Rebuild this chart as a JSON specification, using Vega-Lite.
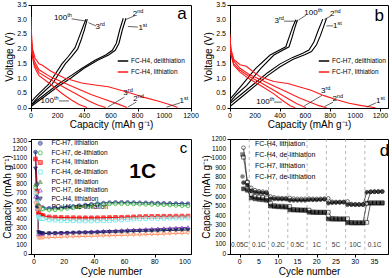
{
"$schema": "https://vega.github.io/schema/vega-lite/v6.json",
"padding": {"left": 2, "top": 0, "right": 0, "bottom": 0},
"columns": 2,
"spacing": {"row": 31, "column": 39},
"bounds": "flush",
"resolve": {"scale": {"color": "independent", "fill": "independent", "shape": "independent", "x": "independent", "y": "independent"}, "legend": {"color": "independent", "fill": "independent", "shape": "independent"}},
"config": {
  "font": "Liberation Sans",
  "view": {"stroke": "black", "strokeWidth": 1},
  "axis": {"grid": false, "labels": false, "domainColor": "black", "tickColor": "black", "titleColor": "black", "titleFontSize": 10, "titleFontWeight": "normal", "tickSize": 3},
  "axisX": {"titlePadding": 8},
  "axisY": {"titlePadding": 13},
  "text": {"font": "Liberation Sans", "color": "black"},
  "legend": {"labelColor": "black", "padding": 0, "title": null}
},
"datasets": {
  "curvesA": [
    {"g":"FC-H4, delithiation","c":"1st","x":0,"v":0.05},{"g":"FC-H4, delithiation","c":"1st","x":100,"v":0.38},{"g":"FC-H4, delithiation","c":"1st","x":200,"v":0.72},{"g":"FC-H4, delithiation","c":"1st","x":300,"v":1.02},{"g":"FC-H4, delithiation","c":"1st","x":395,"v":1.34},{"g":"FC-H4, delithiation","c":"1st","x":500,"v":1.62},{"g":"FC-H4, delithiation","c":"1st","x":582,"v":1.8},{"g":"FC-H4, delithiation","c":"1st","x":632,"v":1.96},{"g":"FC-H4, delithiation","c":"1st","x":660,"v":2.2},{"g":"FC-H4, delithiation","c":"1st","x":685,"v":2.65},{"g":"FC-H4, delithiation","c":"1st","x":712,"v":3.05},
    {"g":"FC-H4, delithiation","c":"2nd","x":0,"v":0.1},{"g":"FC-H4, delithiation","c":"2nd","x":100,"v":0.45},{"g":"FC-H4, delithiation","c":"2nd","x":200,"v":0.8},{"g":"FC-H4, delithiation","c":"2nd","x":300,"v":1.1},{"g":"FC-H4, delithiation","c":"2nd","x":380,"v":1.34},{"g":"FC-H4, delithiation","c":"2nd","x":480,"v":1.62},{"g":"FC-H4, delithiation","c":"2nd","x":560,"v":1.8},{"g":"FC-H4, delithiation","c":"2nd","x":610,"v":1.96},{"g":"FC-H4, delithiation","c":"2nd","x":640,"v":2.2},{"g":"FC-H4, delithiation","c":"2nd","x":665,"v":2.65},{"g":"FC-H4, delithiation","c":"2nd","x":692,"v":3.05},
    {"g":"FC-H4, delithiation","c":"3rd","x":0,"v":0.1},{"g":"FC-H4, delithiation","c":"3rd","x":60,"v":0.4},{"g":"FC-H4, delithiation","c":"3rd","x":157,"v":0.8},{"g":"FC-H4, delithiation","c":"3rd","x":257,"v":1.5},{"g":"FC-H4, delithiation","c":"3rd","x":300,"v":1.72},{"g":"FC-H4, delithiation","c":"3rd","x":350,"v":2.0},{"g":"FC-H4, delithiation","c":"3rd","x":375,"v":2.3},{"g":"FC-H4, delithiation","c":"3rd","x":400,"v":2.65},{"g":"FC-H4, delithiation","c":"3rd","x":422,"v":3.02},
    {"g":"FC-H4, delithiation","c":"100th","x":0,"v":0.2},{"g":"FC-H4, delithiation","c":"100th","x":40,"v":0.4},{"g":"FC-H4, delithiation","c":"100th","x":131,"v":0.8},{"g":"FC-H4, delithiation","c":"100th","x":232,"v":1.5},{"g":"FC-H4, delithiation","c":"100th","x":280,"v":1.75},{"g":"FC-H4, delithiation","c":"100th","x":330,"v":2.05},{"g":"FC-H4, delithiation","c":"100th","x":360,"v":2.4},{"g":"FC-H4, delithiation","c":"100th","x":385,"v":2.7},{"g":"FC-H4, delithiation","c":"100th","x":412,"v":3.02},
    {"g":"FC-H4, lithiation","c":"1st","x":0,"v":3.1},{"g":"FC-H4, lithiation","c":"1st","x":4,"v":2.5},{"g":"FC-H4, lithiation","c":"1st","x":12,"v":2.0},{"g":"FC-H4, lithiation","c":"1st","x":30,"v":1.7},{"g":"FC-H4, lithiation","c":"1st","x":60,"v":1.5},{"g":"FC-H4, lithiation","c":"1st","x":85,"v":1.45},{"g":"FC-H4, lithiation","c":"1st","x":150,"v":1.25},{"g":"FC-H4, lithiation","c":"1st","x":250,"v":1.02},{"g":"FC-H4, lithiation","c":"1st","x":380,"v":0.85},{"g":"FC-H4, lithiation","c":"1st","x":480,"v":0.78},{"g":"FC-H4, lithiation","c":"1st","x":580,"v":0.72},{"g":"FC-H4, lithiation","c":"1st","x":660,"v":0.62},{"g":"FC-H4, lithiation","c":"1st","x":757,"v":0.49},{"g":"FC-H4, lithiation","c":"1st","x":850,"v":0.36},{"g":"FC-H4, lithiation","c":"1st","x":957,"v":0.23},{"g":"FC-H4, lithiation","c":"1st","x":1050,"v":0.1},{"g":"FC-H4, lithiation","c":"1st","x":1100,"v":0.02},
    {"g":"FC-H4, lithiation","c":"2nd","x":0,"v":2.5},{"g":"FC-H4, lithiation","c":"2nd","x":8,"v":2.0},{"g":"FC-H4, lithiation","c":"2nd","x":25,"v":1.6},{"g":"FC-H4, lithiation","c":"2nd","x":60,"v":1.3},{"g":"FC-H4, lithiation","c":"2nd","x":150,"v":1.05},{"g":"FC-H4, lithiation","c":"2nd","x":250,"v":0.85},{"g":"FC-H4, lithiation","c":"2nd","x":350,"v":0.65},{"g":"FC-H4, lithiation","c":"2nd","x":450,"v":0.46},{"g":"FC-H4, lithiation","c":"2nd","x":550,"v":0.3},{"g":"FC-H4, lithiation","c":"2nd","x":650,"v":0.14},{"g":"FC-H4, lithiation","c":"2nd","x":720,"v":0.02},
    {"g":"FC-H4, lithiation","c":"3rd","x":0,"v":2.4},{"g":"FC-H4, lithiation","c":"3rd","x":8,"v":1.9},{"g":"FC-H4, lithiation","c":"3rd","x":25,"v":1.5},{"g":"FC-H4, lithiation","c":"3rd","x":60,"v":1.2},{"g":"FC-H4, lithiation","c":"3rd","x":150,"v":0.95},{"g":"FC-H4, lithiation","c":"3rd","x":250,"v":0.7},{"g":"FC-H4, lithiation","c":"3rd","x":350,"v":0.45},{"g":"FC-H4, lithiation","c":"3rd","x":430,"v":0.25},{"g":"FC-H4, lithiation","c":"3rd","x":500,"v":0.1},{"g":"FC-H4, lithiation","c":"3rd","x":560,"v":0.02},
    {"g":"FC-H4, lithiation","c":"100th","x":0,"v":2.3},{"g":"FC-H4, lithiation","c":"100th","x":8,"v":1.8},{"g":"FC-H4, lithiation","c":"100th","x":25,"v":1.4},{"g":"FC-H4, lithiation","c":"100th","x":60,"v":1.1},{"g":"FC-H4, lithiation","c":"100th","x":150,"v":0.8},{"g":"FC-H4, lithiation","c":"100th","x":230,"v":0.5},{"g":"FC-H4, lithiation","c":"100th","x":300,"v":0.28},{"g":"FC-H4, lithiation","c":"100th","x":360,"v":0.12},{"g":"FC-H4, lithiation","c":"100th","x":420,"v":0.02}
  ],
  "curvesB": [
    {"g":"FC-H7, delithiation","c":"1st","x":0,"v":0.05},{"g":"FC-H7, delithiation","c":"1st","x":100,"v":0.4},{"g":"FC-H7, delithiation","c":"1st","x":200,"v":0.75},{"g":"FC-H7, delithiation","c":"1st","x":300,"v":1.1},{"g":"FC-H7, delithiation","c":"1st","x":400,"v":1.4},{"g":"FC-H7, delithiation","c":"1st","x":500,"v":1.65},{"g":"FC-H7, delithiation","c":"1st","x":600,"v":1.82},{"g":"FC-H7, delithiation","c":"1st","x":650,"v":1.92},{"g":"FC-H7, delithiation","c":"1st","x":690,"v":2.15},{"g":"FC-H7, delithiation","c":"1st","x":720,"v":2.45},{"g":"FC-H7, delithiation","c":"1st","x":745,"v":2.75},{"g":"FC-H7, delithiation","c":"1st","x":770,"v":3.05},
    {"g":"FC-H7, delithiation","c":"2nd","x":0,"v":0.15},{"g":"FC-H7, delithiation","c":"2nd","x":100,"v":0.5},{"g":"FC-H7, delithiation","c":"2nd","x":200,"v":0.85},{"g":"FC-H7, delithiation","c":"2nd","x":300,"v":1.2},{"g":"FC-H7, delithiation","c":"2nd","x":400,"v":1.5},{"g":"FC-H7, delithiation","c":"2nd","x":500,"v":1.72},{"g":"FC-H7, delithiation","c":"2nd","x":580,"v":1.86},{"g":"FC-H7, delithiation","c":"2nd","x":630,"v":1.97},{"g":"FC-H7, delithiation","c":"2nd","x":670,"v":2.25},{"g":"FC-H7, delithiation","c":"2nd","x":700,"v":2.6},{"g":"FC-H7, delithiation","c":"2nd","x":740,"v":3.02},
    {"g":"FC-H7, delithiation","c":"3rd","x":0,"v":0.2},{"g":"FC-H7, delithiation","c":"3rd","x":50,"v":0.45},{"g":"FC-H7, delithiation","c":"3rd","x":133,"v":0.77},{"g":"FC-H7, delithiation","c":"3rd","x":244,"v":1.34},{"g":"FC-H7, delithiation","c":"3rd","x":350,"v":1.8},{"g":"FC-H7, delithiation","c":"3rd","x":471,"v":2.08},{"g":"FC-H7, delithiation","c":"3rd","x":495,"v":2.4},{"g":"FC-H7, delithiation","c":"3rd","x":515,"v":2.7},{"g":"FC-H7, delithiation","c":"3rd","x":538,"v":3.0},
    {"g":"FC-H7, delithiation","c":"100th","x":0,"v":0.3},{"g":"FC-H7, delithiation","c":"100th","x":40,"v":0.5},{"g":"FC-H7, delithiation","c":"100th","x":93,"v":0.77},{"g":"FC-H7, delithiation","c":"100th","x":203,"v":1.34},{"g":"FC-H7, delithiation","c":"100th","x":320,"v":1.8},{"g":"FC-H7, delithiation","c":"100th","x":445,"v":2.08},{"g":"FC-H7, delithiation","c":"100th","x":475,"v":2.45},{"g":"FC-H7, delithiation","c":"100th","x":500,"v":2.75},{"g":"FC-H7, delithiation","c":"100th","x":525,"v":3.0},
    {"g":"FC-H7, lithiation","c":"1st","x":0,"v":2.4},{"g":"FC-H7, lithiation","c":"1st","x":8,"v":2.0},{"g":"FC-H7, lithiation","c":"1st","x":30,"v":1.65},{"g":"FC-H7, lithiation","c":"1st","x":80,"v":1.47},{"g":"FC-H7, lithiation","c":"1st","x":130,"v":1.42},{"g":"FC-H7, lithiation","c":"1st","x":180,"v":1.25},{"g":"FC-H7, lithiation","c":"1st","x":244,"v":1.05},{"g":"FC-H7, lithiation","c":"1st","x":350,"v":0.9},{"g":"FC-H7, lithiation","c":"1st","x":461,"v":0.83},{"g":"FC-H7, lithiation","c":"1st","x":550,"v":0.72},{"g":"FC-H7, lithiation","c":"1st","x":646,"v":0.6},{"g":"FC-H7, lithiation","c":"1st","x":750,"v":0.42},{"g":"FC-H7, lithiation","c":"1st","x":850,"v":0.28},{"g":"FC-H7, lithiation","c":"1st","x":950,"v":0.16},{"g":"FC-H7, lithiation","c":"1st","x":1050,"v":0.08},{"g":"FC-H7, lithiation","c":"1st","x":1160,"v":0.01},
    {"g":"FC-H7, lithiation","c":"2nd","x":0,"v":2.2},{"g":"FC-H7, lithiation","c":"2nd","x":8,"v":1.9},{"g":"FC-H7, lithiation","c":"2nd","x":30,"v":1.6},{"g":"FC-H7, lithiation","c":"2nd","x":80,"v":1.35},{"g":"FC-H7, lithiation","c":"2nd","x":150,"v":1.15},{"g":"FC-H7, lithiation","c":"2nd","x":250,"v":0.95},{"g":"FC-H7, lithiation","c":"2nd","x":350,"v":0.75},{"g":"FC-H7, lithiation","c":"2nd","x":450,"v":0.55},{"g":"FC-H7, lithiation","c":"2nd","x":550,"v":0.35},{"g":"FC-H7, lithiation","c":"2nd","x":650,"v":0.18},{"g":"FC-H7, lithiation","c":"2nd","x":710,"v":0.08},{"g":"FC-H7, lithiation","c":"2nd","x":770,"v":0.01},
    {"g":"FC-H7, lithiation","c":"3rd","x":0,"v":2.3},{"g":"FC-H7, lithiation","c":"3rd","x":8,"v":1.85},{"g":"FC-H7, lithiation","c":"3rd","x":30,"v":1.5},{"g":"FC-H7, lithiation","c":"3rd","x":80,"v":1.28},{"g":"FC-H7, lithiation","c":"3rd","x":150,"v":1.08},{"g":"FC-H7, lithiation","c":"3rd","x":250,"v":0.85},{"g":"FC-H7, lithiation","c":"3rd","x":350,"v":0.6},{"g":"FC-H7, lithiation","c":"3rd","x":450,"v":0.35},{"g":"FC-H7, lithiation","c":"3rd","x":530,"v":0.15},{"g":"FC-H7, lithiation","c":"3rd","x":605,"v":0.01},
    {"g":"FC-H7, lithiation","c":"100th","x":0,"v":2.5},{"g":"FC-H7, lithiation","c":"100th","x":8,"v":1.8},{"g":"FC-H7, lithiation","c":"100th","x":30,"v":1.45},{"g":"FC-H7, lithiation","c":"100th","x":80,"v":1.22},{"g":"FC-H7, lithiation","c":"100th","x":150,"v":1.0},{"g":"FC-H7, lithiation","c":"100th","x":250,"v":0.75},{"g":"FC-H7, lithiation","c":"100th","x":350,"v":0.48},{"g":"FC-H7, lithiation","c":"100th","x":430,"v":0.22},{"g":"FC-H7, lithiation","c":"100th","x":480,"v":0.08},{"g":"FC-H7, lithiation","c":"100th","x":520,"v":0.01}
  ],
  "arrowsA": [
    {"x":305,"v":3.03,"x2":416,"v2":2.95},{"x":487,"v":2.79,"x2":431,"v2":2.9},{"x":776,"v":3.13,"x2":714,"v2":3.01},{"x":801,"v":2.75,"x2":726,"v2":2.77},
    {"x":209,"v":0.24,"x2":285,"v2":0.24},{"x":701,"v":0.37,"x2":575,"v2":0.03},{"x":789,"v":0.2,"x2":726,"v2":0.03},{"x":1117,"v":0.17,"x2":1016,"v2":0.03}
  ],
  "labelsA": [
    {"x":272,"v":3.06,"t":"100","s":"th"},{"x":517,"v":2.75,"t":"3","s":"rd"},{"x":797,"v":3.18,"t":"2","s":"nd"},{"x":839,"v":2.73,"t":"1","s":"st"},
    {"x":172,"v":0.24,"t":"100","s":"th"},{"x":726,"v":0.52,"t":"3","s":"rd"},{"x":801,"v":0.3,"t":"2","s":"nd"},{"x":1147,"v":0.24,"t":"1","s":"st"}
  ],
  "arrowsB": [
    {"x":431,"v":2.95,"x2":539,"v2":2.95},{"x":605,"v":3.15,"x2":547,"v2":2.99},{"x":806,"v":3.13,"x2":753,"v2":3.01},{"x":823,"v":2.79,"x2":769,"v2":2.79},
    {"x":352,"v":0.2,"x2":414,"v2":0.2},{"x":734,"v":0.43,"x2":592,"v2":0.07},{"x":823,"v":0.2,"x2":755,"v2":0.05},{"x":1163,"v":0.17,"x2":1088,"v2":0.03}
  ],
  "labelsB": [
    {"x":391,"v":2.95,"t":"3","s":"rd"},{"x":699,"v":3.23,"t":"100","s":"th"},{"x":833,"v":3.18,"t":"2","s":"nd"},{"x":857,"v":2.79,"t":"1","s":"st"},
    {"x":316,"v":0.2,"t":"100","s":"th"},{"x":761,"v":0.57,"t":"3","s":"rd"},{"x":852,"v":0.3,"t":"2","s":"nd"},{"x":1200,"v":0.25,"t":"1","s":"st"}
  ],
  "ticksV": [{"v":0},{"v":0.5},{"v":1},{"v":1.5},{"v":2},{"v":2.5},{"v":3},{"v":3.5}],
  "ticksCap": [{"x":0},{"x":200},{"x":400},{"x":600},{"x":800},{"x":1000},{"x":1200}],
  "ticksC": [{"y":0},{"y":100},{"y":200},{"y":300},{"y":400},{"y":500},{"y":600},{"y":700},{"y":800},{"y":900},{"y":1000},{"y":1100},{"y":1200},{"y":1300}],
  "ticksCx": [{"x":0},{"x":20},{"x":40},{"x":60},{"x":80},{"x":100}],
  "ticksD": [{"y":0},{"y":100},{"y":200},{"y":300},{"y":400},{"y":500},{"y":600},{"y":700},{"y":800},{"y":900},{"y":1000},{"y":1100},{"y":1200}],
  "ticksDx": [{"x":0},{"x":5},{"x":10},{"x":15},{"x":20},{"x":25},{"x":30},{"x":35}],
  "cyc": [
    {"s":"FC-H7, lithiation","x":1,"y":1170},{"s":"FC-H7, lithiation","x":2,"y":800},{"s":"FC-H7, lithiation","x":3,"y":560},{"s":"FC-H7, lithiation","x":4,"y":535},{"s":"FC-H7, lithiation","x":5,"y":532},{"s":"FC-H7, lithiation","x":6,"y":530},{"s":"FC-H7, lithiation","x":10,"y":525},{"s":"FC-H7, lithiation","x":14,"y":528},{"s":"FC-H7, lithiation","x":18,"y":532},{"s":"FC-H7, lithiation","x":22,"y":538},{"s":"FC-H7, lithiation","x":26,"y":547},{"s":"FC-H7, lithiation","x":30,"y":555},{"s":"FC-H7, lithiation","x":34,"y":563},{"s":"FC-H7, lithiation","x":38,"y":571},{"s":"FC-H7, lithiation","x":42,"y":579},{"s":"FC-H7, lithiation","x":46,"y":585},{"s":"FC-H7, lithiation","x":50,"y":590},{"s":"FC-H7, lithiation","x":54,"y":592},{"s":"FC-H7, lithiation","x":58,"y":593},{"s":"FC-H7, lithiation","x":62,"y":592},{"s":"FC-H7, lithiation","x":66,"y":590},{"s":"FC-H7, lithiation","x":70,"y":588},{"s":"FC-H7, lithiation","x":74,"y":587},{"s":"FC-H7, lithiation","x":78,"y":586},{"s":"FC-H7, lithiation","x":82,"y":584},{"s":"FC-H7, lithiation","x":86,"y":582},{"s":"FC-H7, lithiation","x":90,"y":580},{"s":"FC-H7, lithiation","x":94,"y":579},{"s":"FC-H7, lithiation","x":98,"y":578},{"s":"FC-H7, lithiation","x":102,"y":577},
    {"s":"FC-H7, de-lithiation","x":1,"y":760},{"s":"FC-H7, de-lithiation","x":2,"y":700},{"s":"FC-H7, de-lithiation","x":3,"y":545},{"s":"FC-H7, de-lithiation","x":4,"y":522},{"s":"FC-H7, de-lithiation","x":5,"y":516},{"s":"FC-H7, de-lithiation","x":6,"y":515},{"s":"FC-H7, de-lithiation","x":10,"y":505},{"s":"FC-H7, de-lithiation","x":14,"y":508},{"s":"FC-H7, de-lithiation","x":18,"y":515},{"s":"FC-H7, de-lithiation","x":22,"y":523},{"s":"FC-H7, de-lithiation","x":26,"y":532},{"s":"FC-H7, de-lithiation","x":30,"y":540},{"s":"FC-H7, de-lithiation","x":34,"y":548},{"s":"FC-H7, de-lithiation","x":38,"y":556},{"s":"FC-H7, de-lithiation","x":42,"y":563},{"s":"FC-H7, de-lithiation","x":46,"y":569},{"s":"FC-H7, de-lithiation","x":50,"y":575},{"s":"FC-H7, de-lithiation","x":54,"y":577},{"s":"FC-H7, de-lithiation","x":58,"y":578},{"s":"FC-H7, de-lithiation","x":62,"y":577},{"s":"FC-H7, de-lithiation","x":66,"y":574},{"s":"FC-H7, de-lithiation","x":70,"y":572},{"s":"FC-H7, de-lithiation","x":74,"y":570},{"s":"FC-H7, de-lithiation","x":78,"y":569},{"s":"FC-H7, de-lithiation","x":82,"y":567},{"s":"FC-H7, de-lithiation","x":86,"y":565},{"s":"FC-H7, de-lithiation","x":90,"y":562},{"s":"FC-H7, de-lithiation","x":94,"y":558},{"s":"FC-H7, de-lithiation","x":98,"y":555},{"s":"FC-H7, de-lithiation","x":102,"y":552},
    {"s":"FC-H4, lithiation","x":1,"y":1090},{"s":"FC-H4, lithiation","x":2,"y":720},{"s":"FC-H4, lithiation","x":3,"y":470},{"s":"FC-H4, lithiation","x":4,"y":448},{"s":"FC-H4, lithiation","x":5,"y":442},{"s":"FC-H4, lithiation","x":6,"y":440},{"s":"FC-H4, lithiation","x":10,"y":425},{"s":"FC-H4, lithiation","x":14,"y":422},{"s":"FC-H4, lithiation","x":18,"y":419},{"s":"FC-H4, lithiation","x":22,"y":417},{"s":"FC-H4, lithiation","x":26,"y":416},{"s":"FC-H4, lithiation","x":30,"y":415},{"s":"FC-H4, lithiation","x":34,"y":415},{"s":"FC-H4, lithiation","x":38,"y":415},{"s":"FC-H4, lithiation","x":42,"y":415},{"s":"FC-H4, lithiation","x":46,"y":416},{"s":"FC-H4, lithiation","x":50,"y":418},{"s":"FC-H4, lithiation","x":54,"y":420},{"s":"FC-H4, lithiation","x":58,"y":421},{"s":"FC-H4, lithiation","x":62,"y":423},{"s":"FC-H4, lithiation","x":66,"y":426},{"s":"FC-H4, lithiation","x":70,"y":428},{"s":"FC-H4, lithiation","x":74,"y":430},{"s":"FC-H4, lithiation","x":78,"y":431},{"s":"FC-H4, lithiation","x":82,"y":432},{"s":"FC-H4, lithiation","x":86,"y":433},{"s":"FC-H4, lithiation","x":90,"y":433},{"s":"FC-H4, lithiation","x":94,"y":434},{"s":"FC-H4, lithiation","x":98,"y":435},{"s":"FC-H4, lithiation","x":102,"y":435},
    {"s":"FC-H4, de-lithiation","x":1,"y":700},{"s":"FC-H4, de-lithiation","x":2,"y":600},{"s":"FC-H4, de-lithiation","x":3,"y":430},{"s":"FC-H4, de-lithiation","x":4,"y":412},{"s":"FC-H4, de-lithiation","x":5,"y":407},{"s":"FC-H4, de-lithiation","x":6,"y":405},{"s":"FC-H4, de-lithiation","x":10,"y":392},{"s":"FC-H4, de-lithiation","x":14,"y":389},{"s":"FC-H4, de-lithiation","x":18,"y":386},{"s":"FC-H4, de-lithiation","x":22,"y":384},{"s":"FC-H4, de-lithiation","x":26,"y":382},{"s":"FC-H4, de-lithiation","x":30,"y":380},{"s":"FC-H4, de-lithiation","x":34,"y":380},{"s":"FC-H4, de-lithiation","x":38,"y":380},{"s":"FC-H4, de-lithiation","x":42,"y":381},{"s":"FC-H4, de-lithiation","x":46,"y":383},{"s":"FC-H4, de-lithiation","x":50,"y":385},{"s":"FC-H4, de-lithiation","x":54,"y":389},{"s":"FC-H4, de-lithiation","x":58,"y":393},{"s":"FC-H4, de-lithiation","x":62,"y":397},{"s":"FC-H4, de-lithiation","x":66,"y":401},{"s":"FC-H4, de-lithiation","x":70,"y":405},{"s":"FC-H4, de-lithiation","x":74,"y":407},{"s":"FC-H4, de-lithiation","x":78,"y":409},{"s":"FC-H4, de-lithiation","x":82,"y":410},{"s":"FC-H4, de-lithiation","x":86,"y":411},{"s":"FC-H4, de-lithiation","x":90,"y":412},{"s":"FC-H4, de-lithiation","x":94,"y":413},{"s":"FC-H4, de-lithiation","x":98,"y":414},{"s":"FC-H4, de-lithiation","x":102,"y":415},
    {"s":"PC-H7, lithiation","x":1,"y":800},{"s":"PC-H7, lithiation","x":2,"y":560},{"s":"PC-H7, lithiation","x":3,"y":255},{"s":"PC-H7, lithiation","x":4,"y":245},{"s":"PC-H7, lithiation","x":5,"y":242},{"s":"PC-H7, lithiation","x":6,"y":240},{"s":"PC-H7, lithiation","x":10,"y":241},{"s":"PC-H7, lithiation","x":14,"y":243},{"s":"PC-H7, lithiation","x":18,"y":244},{"s":"PC-H7, lithiation","x":22,"y":246},{"s":"PC-H7, lithiation","x":26,"y":248},{"s":"PC-H7, lithiation","x":30,"y":250},{"s":"PC-H7, lithiation","x":34,"y":252},{"s":"PC-H7, lithiation","x":38,"y":254},{"s":"PC-H7, lithiation","x":42,"y":256},{"s":"PC-H7, lithiation","x":46,"y":259},{"s":"PC-H7, lithiation","x":50,"y":262},{"s":"PC-H7, lithiation","x":54,"y":265},{"s":"PC-H7, lithiation","x":58,"y":268},{"s":"PC-H7, lithiation","x":62,"y":271},{"s":"PC-H7, lithiation","x":66,"y":273},{"s":"PC-H7, lithiation","x":70,"y":275},{"s":"PC-H7, lithiation","x":74,"y":277},{"s":"PC-H7, lithiation","x":78,"y":279},{"s":"PC-H7, lithiation","x":82,"y":281},{"s":"PC-H7, lithiation","x":86,"y":283},{"s":"PC-H7, lithiation","x":90,"y":285},{"s":"PC-H7, lithiation","x":94,"y":287},{"s":"PC-H7, lithiation","x":98,"y":289},{"s":"PC-H7, lithiation","x":102,"y":291},
    {"s":"PC-H7, de-lithiation","x":1,"y":660},{"s":"PC-H7, de-lithiation","x":2,"y":520},{"s":"PC-H7, de-lithiation","x":3,"y":232},{"s":"PC-H7, de-lithiation","x":4,"y":234},{"s":"PC-H7, de-lithiation","x":5,"y":235},{"s":"PC-H7, de-lithiation","x":6,"y":235},{"s":"PC-H7, de-lithiation","x":10,"y":238},{"s":"PC-H7, de-lithiation","x":14,"y":241},{"s":"PC-H7, de-lithiation","x":18,"y":244},{"s":"PC-H7, de-lithiation","x":22,"y":246},{"s":"PC-H7, de-lithiation","x":26,"y":249},{"s":"PC-H7, de-lithiation","x":30,"y":252},{"s":"PC-H7, de-lithiation","x":34,"y":255},{"s":"PC-H7, de-lithiation","x":38,"y":258},{"s":"PC-H7, de-lithiation","x":42,"y":261},{"s":"PC-H7, de-lithiation","x":46,"y":264},{"s":"PC-H7, de-lithiation","x":50,"y":267},{"s":"PC-H7, de-lithiation","x":54,"y":270},{"s":"PC-H7, de-lithiation","x":58,"y":273},{"s":"PC-H7, de-lithiation","x":62,"y":276},{"s":"PC-H7, de-lithiation","x":66,"y":279},{"s":"PC-H7, de-lithiation","x":70,"y":282},{"s":"PC-H7, de-lithiation","x":74,"y":285},{"s":"PC-H7, de-lithiation","x":78,"y":288},{"s":"PC-H7, de-lithiation","x":82,"y":291},{"s":"PC-H7, de-lithiation","x":86,"y":294},{"s":"PC-H7, de-lithiation","x":90,"y":297},{"s":"PC-H7, de-lithiation","x":94,"y":300},{"s":"PC-H7, de-lithiation","x":98,"y":303},{"s":"PC-H7, de-lithiation","x":102,"y":306},
    {"s":"PC-H4, lithiation","x":1,"y":980},{"s":"PC-H4, lithiation","x":2,"y":530},{"s":"PC-H4, lithiation","x":3,"y":250},{"s":"PC-H4, lithiation","x":4,"y":240},{"s":"PC-H4, lithiation","x":5,"y":236},{"s":"PC-H4, lithiation","x":6,"y":235},{"s":"PC-H4, lithiation","x":10,"y":236},{"s":"PC-H4, lithiation","x":14,"y":237},{"s":"PC-H4, lithiation","x":18,"y":239},{"s":"PC-H4, lithiation","x":22,"y":240},{"s":"PC-H4, lithiation","x":26,"y":241},{"s":"PC-H4, lithiation","x":30,"y":242},{"s":"PC-H4, lithiation","x":34,"y":243},{"s":"PC-H4, lithiation","x":38,"y":244},{"s":"PC-H4, lithiation","x":42,"y":246},{"s":"PC-H4, lithiation","x":46,"y":248},{"s":"PC-H4, lithiation","x":50,"y":250},{"s":"PC-H4, lithiation","x":54,"y":252},{"s":"PC-H4, lithiation","x":58,"y":254},{"s":"PC-H4, lithiation","x":62,"y":256},{"s":"PC-H4, lithiation","x":66,"y":258},{"s":"PC-H4, lithiation","x":70,"y":260},{"s":"PC-H4, lithiation","x":74,"y":262},{"s":"PC-H4, lithiation","x":78,"y":264},{"s":"PC-H4, lithiation","x":82,"y":266},{"s":"PC-H4, lithiation","x":86,"y":268},{"s":"PC-H4, lithiation","x":90,"y":270},{"s":"PC-H4, lithiation","x":94,"y":272},{"s":"PC-H4, lithiation","x":98,"y":274},{"s":"PC-H4, lithiation","x":102,"y":276},
    {"s":"PC-H4, de-lithiation","x":1,"y":580},{"s":"PC-H4, de-lithiation","x":2,"y":500},{"s":"PC-H4, de-lithiation","x":3,"y":180},{"s":"PC-H4, de-lithiation","x":4,"y":183},{"s":"PC-H4, de-lithiation","x":5,"y":185},{"s":"PC-H4, de-lithiation","x":6,"y":185},{"s":"PC-H4, de-lithiation","x":10,"y":188},{"s":"PC-H4, de-lithiation","x":14,"y":191},{"s":"PC-H4, de-lithiation","x":18,"y":194},{"s":"PC-H4, de-lithiation","x":22,"y":196},{"s":"PC-H4, de-lithiation","x":26,"y":198},{"s":"PC-H4, de-lithiation","x":30,"y":200},{"s":"PC-H4, de-lithiation","x":34,"y":202},{"s":"PC-H4, de-lithiation","x":38,"y":204},{"s":"PC-H4, de-lithiation","x":42,"y":206},{"s":"PC-H4, de-lithiation","x":46,"y":208},{"s":"PC-H4, de-lithiation","x":50,"y":210},{"s":"PC-H4, de-lithiation","x":54,"y":212},{"s":"PC-H4, de-lithiation","x":58,"y":214},{"s":"PC-H4, de-lithiation","x":62,"y":216},{"s":"PC-H4, de-lithiation","x":66,"y":218},{"s":"PC-H4, de-lithiation","x":70,"y":220},{"s":"PC-H4, de-lithiation","x":74,"y":222},{"s":"PC-H4, de-lithiation","x":78,"y":224},{"s":"PC-H4, de-lithiation","x":82,"y":226},{"s":"PC-H4, de-lithiation","x":86,"y":229},{"s":"PC-H4, de-lithiation","x":90,"y":232},{"s":"PC-H4, de-lithiation","x":94,"y":235},{"s":"PC-H4, de-lithiation","x":98,"y":238},{"s":"PC-H4, de-lithiation","x":102,"y":241}
  ],
  "rate": [
    {"s":"FC-H4, lithiation","x":1,"y":1010},{"s":"FC-H4, lithiation","x":2,"y":750},{"s":"FC-H4, lithiation","x":3,"y":620},{"s":"FC-H4, lithiation","x":4,"y":600},{"s":"FC-H4, lithiation","x":5,"y":595},{"s":"FC-H4, lithiation","x":6,"y":590},{"s":"FC-H4, lithiation","x":7,"y":585},{"s":"FC-H4, lithiation","x":8,"y":530},{"s":"FC-H4, lithiation","x":9,"y":505},{"s":"FC-H4, lithiation","x":10,"y":500},{"s":"FC-H4, lithiation","x":11,"y":500},{"s":"FC-H4, lithiation","x":12,"y":498},{"s":"FC-H4, lithiation","x":13,"y":495},{"s":"FC-H4, lithiation","x":14,"y":465},{"s":"FC-H4, lithiation","x":15,"y":462},{"s":"FC-H4, lithiation","x":16,"y":460},{"s":"FC-H4, lithiation","x":17,"y":460},{"s":"FC-H4, lithiation","x":18,"y":458},{"s":"FC-H4, lithiation","x":19,"y":440},{"s":"FC-H4, lithiation","x":20,"y":438},{"s":"FC-H4, lithiation","x":21,"y":437},{"s":"FC-H4, lithiation","x":22,"y":437},{"s":"FC-H4, lithiation","x":23,"y":436},{"s":"FC-H4, lithiation","x":24,"y":372},{"s":"FC-H4, lithiation","x":25,"y":370},{"s":"FC-H4, lithiation","x":26,"y":368},{"s":"FC-H4, lithiation","x":27,"y":368},{"s":"FC-H4, lithiation","x":28,"y":368},{"s":"FC-H4, lithiation","x":29,"y":330},{"s":"FC-H4, lithiation","x":30,"y":328},{"s":"FC-H4, lithiation","x":31,"y":328},{"s":"FC-H4, lithiation","x":32,"y":327},{"s":"FC-H4, lithiation","x":33,"y":330},{"s":"FC-H4, lithiation","x":34,"y":535},{"s":"FC-H4, lithiation","x":35,"y":535},{"s":"FC-H4, lithiation","x":36,"y":535},{"s":"FC-H4, lithiation","x":37,"y":535},
    {"s":"FC-H4, de-lithiation","x":1,"y":680},{"s":"FC-H4, de-lithiation","x":2,"y":665},{"s":"FC-H4, de-lithiation","x":3,"y":585},{"s":"FC-H4, de-lithiation","x":4,"y":575},{"s":"FC-H4, de-lithiation","x":5,"y":570},{"s":"FC-H4, de-lithiation","x":6,"y":565},{"s":"FC-H4, de-lithiation","x":7,"y":560},{"s":"FC-H4, de-lithiation","x":8,"y":500},{"s":"FC-H4, de-lithiation","x":9,"y":495},{"s":"FC-H4, de-lithiation","x":10,"y":492},{"s":"FC-H4, de-lithiation","x":11,"y":490},{"s":"FC-H4, de-lithiation","x":12,"y":488},{"s":"FC-H4, de-lithiation","x":13,"y":460},{"s":"FC-H4, de-lithiation","x":14,"y":458},{"s":"FC-H4, de-lithiation","x":15,"y":457},{"s":"FC-H4, de-lithiation","x":16,"y":456},{"s":"FC-H4, de-lithiation","x":17,"y":455},{"s":"FC-H4, de-lithiation","x":18,"y":435},{"s":"FC-H4, de-lithiation","x":19,"y":433},{"s":"FC-H4, de-lithiation","x":20,"y":432},{"s":"FC-H4, de-lithiation","x":21,"y":432},{"s":"FC-H4, de-lithiation","x":22,"y":432},{"s":"FC-H4, de-lithiation","x":23,"y":365},{"s":"FC-H4, de-lithiation","x":24,"y":363},{"s":"FC-H4, de-lithiation","x":25,"y":362},{"s":"FC-H4, de-lithiation","x":26,"y":362},{"s":"FC-H4, de-lithiation","x":27,"y":362},{"s":"FC-H4, de-lithiation","x":28,"y":325},{"s":"FC-H4, de-lithiation","x":29,"y":323},{"s":"FC-H4, de-lithiation","x":30,"y":322},{"s":"FC-H4, de-lithiation","x":31,"y":322},{"s":"FC-H4, de-lithiation","x":32,"y":322},{"s":"FC-H4, de-lithiation","x":33,"y":530},{"s":"FC-H4, de-lithiation","x":34,"y":530},{"s":"FC-H4, de-lithiation","x":35,"y":530},{"s":"FC-H4, de-lithiation","x":36,"y":530},{"s":"FC-H4, de-lithiation","x":37,"y":530},
    {"s":"FC-H7, lithiation","x":1,"y":1110},{"s":"FC-H7, lithiation","x":2,"y":750},{"s":"FC-H7, lithiation","x":3,"y":690},{"s":"FC-H7, lithiation","x":4,"y":665},{"s":"FC-H7, lithiation","x":5,"y":655},{"s":"FC-H7, lithiation","x":6,"y":650},{"s":"FC-H7, lithiation","x":7,"y":645},{"s":"FC-H7, lithiation","x":8,"y":600},{"s":"FC-H7, lithiation","x":9,"y":590},{"s":"FC-H7, lithiation","x":10,"y":585},{"s":"FC-H7, lithiation","x":11,"y":583},{"s":"FC-H7, lithiation","x":12,"y":582},{"s":"FC-H7, lithiation","x":13,"y":585},{"s":"FC-H7, lithiation","x":14,"y":578},{"s":"FC-H7, lithiation","x":15,"y":575},{"s":"FC-H7, lithiation","x":16,"y":575},{"s":"FC-H7, lithiation","x":17,"y":575},{"s":"FC-H7, lithiation","x":18,"y":578},{"s":"FC-H7, lithiation","x":19,"y":575},{"s":"FC-H7, lithiation","x":20,"y":575},{"s":"FC-H7, lithiation","x":21,"y":575},{"s":"FC-H7, lithiation","x":22,"y":578},{"s":"FC-H7, lithiation","x":23,"y":580},{"s":"FC-H7, lithiation","x":24,"y":545},{"s":"FC-H7, lithiation","x":25,"y":543},{"s":"FC-H7, lithiation","x":26,"y":543},{"s":"FC-H7, lithiation","x":27,"y":543},{"s":"FC-H7, lithiation","x":28,"y":548},{"s":"FC-H7, lithiation","x":29,"y":520},{"s":"FC-H7, lithiation","x":30,"y":518},{"s":"FC-H7, lithiation","x":31,"y":518},{"s":"FC-H7, lithiation","x":32,"y":518},{"s":"FC-H7, lithiation","x":33,"y":525},{"s":"FC-H7, lithiation","x":34,"y":650},{"s":"FC-H7, lithiation","x":35,"y":650},{"s":"FC-H7, lithiation","x":36,"y":652},{"s":"FC-H7, lithiation","x":37,"y":652},
    {"s":"FC-H7, de-lithiation","x":1,"y":745},{"s":"FC-H7, de-lithiation","x":2,"y":715},{"s":"FC-H7, de-lithiation","x":3,"y":660},{"s":"FC-H7, de-lithiation","x":4,"y":645},{"s":"FC-H7, de-lithiation","x":5,"y":640},{"s":"FC-H7, de-lithiation","x":6,"y":638},{"s":"FC-H7, de-lithiation","x":7,"y":635},{"s":"FC-H7, de-lithiation","x":8,"y":575},{"s":"FC-H7, de-lithiation","x":9,"y":575},{"s":"FC-H7, de-lithiation","x":10,"y":573},{"s":"FC-H7, de-lithiation","x":11,"y":572},{"s":"FC-H7, de-lithiation","x":12,"y":572},{"s":"FC-H7, de-lithiation","x":13,"y":560},{"s":"FC-H7, de-lithiation","x":14,"y":560},{"s":"FC-H7, de-lithiation","x":15,"y":560},{"s":"FC-H7, de-lithiation","x":16,"y":560},{"s":"FC-H7, de-lithiation","x":17,"y":560},{"s":"FC-H7, de-lithiation","x":18,"y":565},{"s":"FC-H7, de-lithiation","x":19,"y":565},{"s":"FC-H7, de-lithiation","x":20,"y":565},{"s":"FC-H7, de-lithiation","x":21,"y":568},{"s":"FC-H7, de-lithiation","x":22,"y":570},{"s":"FC-H7, de-lithiation","x":23,"y":530},{"s":"FC-H7, de-lithiation","x":24,"y":535},{"s":"FC-H7, de-lithiation","x":25,"y":537},{"s":"FC-H7, de-lithiation","x":26,"y":538},{"s":"FC-H7, de-lithiation","x":27,"y":540},{"s":"FC-H7, de-lithiation","x":28,"y":515},{"s":"FC-H7, de-lithiation","x":29,"y":515},{"s":"FC-H7, de-lithiation","x":30,"y":515},{"s":"FC-H7, de-lithiation","x":31,"y":515},{"s":"FC-H7, de-lithiation","x":32,"y":515},{"s":"FC-H7, de-lithiation","x":33,"y":645},{"s":"FC-H7, de-lithiation","x":34,"y":648},{"s":"FC-H7, de-lithiation","x":35,"y":650},{"s":"FC-H7, de-lithiation","x":36,"y":650},{"s":"FC-H7, de-lithiation","x":37,"y":652}
  ],
  "dividers": [{"x":2.5},{"x":7.5},{"x":12.5},{"x":17.5},{"x":22.5},{"x":27.5},{"x":32.5}],
  "rates": [{"x":0,"t":"0.05C"},{"x":5,"t":"0.1C"},{"x":10,"t":"0.2C"},{"x":15,"t":"0.5C"},{"x":20,"t":"1C"},{"x":25,"t":"5C"},{"x":30,"t":"10C"},{"x":35,"t":"0.1C"}]
},
"concat": [
  {
    "width": 160, "height": 103,
    "layer": [
      {"data": {"name": "curvesA"}, "mark": {"type": "line", "strokeWidth": 1.1, "clip": true},
       "encoding": {
         "x": {"field": "x", "type": "quantitative", "scale": {"domain": [0, 1200], "nice": false}, "axis": {"values": [0,200,400,600,800,1000,1200], "title": "Capacity (mAh g⁻¹)"}},
         "y": {"field": "v", "type": "quantitative", "scale": {"domain": [0, 3.5], "nice": false}, "axis": {"values": [0,0.5,1,1.5,2,2.5,3,3.5], "title": "Voltage (V)"}},
         "color": {"field": "g", "type": "nominal", "scale": {"domain": ["FC-H4, delithiation", "FC-H4, lithiation"], "range": ["black", "#ff1a1a"]}, "legend": {"orient": "none", "legendX": 86, "legendY": 50, "symbolType": "stroke", "symbolStrokeWidth": 1.5, "symbolSize": 110, "labelFontSize": 6.5, "rowPadding": 1, "labelOffset": 2}},
         "detail": {"field": "c"}
       }},
      {"data": {"name": "ticksV"}, "mark": {"type": "text", "align": "right", "baseline": "middle", "fontSize": 7, "dx": -4},
       "encoding": {"x": {"datum": 0}, "y": {"field": "v", "type": "quantitative"}, "text": {"field": "v", "type": "quantitative", "format": ".1f"}}},
      {"data": {"name": "ticksCap"}, "mark": {"type": "text", "align": "center", "baseline": "top", "fontSize": 7, "dy": 4},
       "encoding": {"x": {"field": "x", "type": "quantitative"}, "y": {"datum": 0}, "text": {"field": "x", "type": "quantitative", "format": "d"}}},
      {"data": {"name": "arrowsA"}, "mark": {"type": "rule", "strokeWidth": 0.7, "color": "#222"},
       "encoding": {"x": {"field": "x", "type": "quantitative"}, "y": {"field": "v", "type": "quantitative"}, "x2": {"field": "x2"}, "y2": {"field": "v2"}}},
      {"data": {"name": "labelsA"}, "mark": {"type": "text", "align": "right", "baseline": "middle", "fontSize": 8},
       "encoding": {"x": {"field": "x", "type": "quantitative"}, "y": {"field": "v", "type": "quantitative"}, "text": {"field": "t"}}},
      {"data": {"name": "labelsA"}, "mark": {"type": "text", "align": "left", "baseline": "middle", "fontSize": 5.5, "dy": -3},
       "encoding": {"x": {"field": "x", "type": "quantitative"}, "y": {"field": "v", "type": "quantitative"}, "text": {"field": "s"}}},
      {"data": {"values": [{}]}, "mark": {"type": "text", "fontSize": 17, "align": "center", "baseline": "middle"},
       "encoding": {"x": {"datum": 1132}, "y": {"datum": 3.19}, "text": {"value": "a"}}}
    ]
  },
  {
    "width": 158, "height": 103,
    "layer": [
      {"data": {"name": "curvesB"}, "mark": {"type": "line", "strokeWidth": 1.1, "clip": true},
       "encoding": {
         "x": {"field": "x", "type": "quantitative", "scale": {"domain": [0, 1260], "nice": false}, "axis": {"values": [0,200,400,600,800,1000,1200], "title": "Capacity (mAh g⁻¹)"}},
         "y": {"field": "v", "type": "quantitative", "scale": {"domain": [0, 3.5], "nice": false}, "axis": {"values": [0,0.5,1,1.5,2,2.5,3,3.5], "title": "Voltage (V)"}},
         "color": {"field": "g", "type": "nominal", "scale": {"domain": ["FC-H7, delithiation", "FC-H7, lithiation"], "range": ["black", "#ff1a1a"]}, "legend": {"orient": "none", "legendX": 88, "legendY": 50, "symbolType": "stroke", "symbolStrokeWidth": 1.5, "symbolSize": 110, "labelFontSize": 6.5, "rowPadding": 1, "labelOffset": 2}},
         "detail": {"field": "c"}
       }},
      {"data": {"name": "ticksV"}, "mark": {"type": "text", "align": "right", "baseline": "middle", "fontSize": 7, "dx": -4},
       "encoding": {"x": {"datum": 0}, "y": {"field": "v", "type": "quantitative"}, "text": {"field": "v", "type": "quantitative", "format": ".1f"}}},
      {"data": {"name": "ticksCap"}, "mark": {"type": "text", "align": "center", "baseline": "top", "fontSize": 7, "dy": 4},
       "encoding": {"x": {"field": "x", "type": "quantitative"}, "y": {"datum": 0}, "text": {"field": "x", "type": "quantitative", "format": "d"}}},
      {"data": {"name": "arrowsB"}, "mark": {"type": "rule", "strokeWidth": 0.7, "color": "#222"},
       "encoding": {"x": {"field": "x", "type": "quantitative"}, "y": {"field": "v", "type": "quantitative"}, "x2": {"field": "x2"}, "y2": {"field": "v2"}}},
      {"data": {"name": "labelsB"}, "mark": {"type": "text", "align": "right", "baseline": "middle", "fontSize": 8},
       "encoding": {"x": {"field": "x", "type": "quantitative"}, "y": {"field": "v", "type": "quantitative"}, "text": {"field": "t"}}},
      {"data": {"name": "labelsB"}, "mark": {"type": "text", "align": "left", "baseline": "middle", "fontSize": 5.5, "dy": -3},
       "encoding": {"x": {"field": "x", "type": "quantitative"}, "y": {"field": "v", "type": "quantitative"}, "text": {"field": "s"}}},
      {"data": {"values": [{}]}, "mark": {"type": "text", "fontSize": 17, "align": "center", "baseline": "middle"},
       "encoding": {"x": {"datum": 1190}, "y": {"datum": 3.13}, "text": {"value": "b"}}}
    ]
  },
  {
    "width": 160, "height": 115,
    "layer": [
      {"data": {"name": "cyc"}, "mark": {"type": "line", "strokeWidth": 1},
       "encoding": {
         "x": {"field": "x", "type": "quantitative", "scale": {"domain": [-2, 104], "nice": false}, "axis": {"values": [0,20,40,60,80,100], "title": "Cycle number", "titlePadding": 9}},
         "y": {"field": "y", "type": "quantitative", "scale": {"domain": [0, 1320], "nice": false}, "axis": {"values": [0,100,200,300,400,500,600,700,800,900,1000,1100,1200,1300], "title": "Capacity (mAh g⁻¹)", "titlePadding": 15}},
         "color": {"field": "s", "type": "nominal", "scale": {"domain": ["FC-H7, lithiation","FC-H7, de-lithiation","FC-H4, lithiation","FC-H4, de-lithiation","PC-H7, lithiation","PC-H7, de-lithiation","PC-H4, lithiation","PC-H4, de-lithiation"], "range": ["#2b3990","#22b022","#ff0000","#55e6e6","#4f8a3c","#8030c0","#101060","#ff8a5c"]}, "legend": {"orient": "none", "legendX": 6, "legendY": 1, "labelFontSize": 6.5, "rowPadding": 0.6, "symbolSize": 16, "labelOffset": 8, "symbolStrokeWidth": 1}}
       }},
      {"data": {"name": "cyc"}, "mark": {"type": "point", "filled": false, "size": 14, "strokeWidth": 1},
       "encoding": {
         "x": {"field": "x", "type": "quantitative"},
         "y": {"field": "y", "type": "quantitative"},
         "color": {"field": "s", "type": "nominal", "legend": {"orient": "none", "legendX": 6, "legendY": 1, "labelFontSize": 6.5, "rowPadding": 0.6, "symbolSize": 16, "labelOffset": 8, "symbolStrokeWidth": 1}},
         "fill": {"field": "s", "type": "nominal", "scale": {"domain": ["FC-H7, lithiation","FC-H7, de-lithiation","FC-H4, lithiation","FC-H4, de-lithiation","PC-H7, lithiation","PC-H7, de-lithiation","PC-H4, lithiation","PC-H4, de-lithiation"], "range": ["#2b3990","white","#ff0000","white","#4f8a3c","white","#101060","white"]}, "legend": {"orient": "none", "legendX": 6, "legendY": 1, "labelFontSize": 6.5, "rowPadding": 0.6, "symbolSize": 16, "labelOffset": 8, "symbolStrokeWidth": 1}},
         "shape": {"field": "s", "type": "nominal", "scale": {"domain": ["FC-H7, lithiation","FC-H7, de-lithiation","FC-H4, lithiation","FC-H4, de-lithiation","PC-H7, lithiation","PC-H7, de-lithiation","PC-H4, lithiation","PC-H4, de-lithiation"], "range": ["circle","circle","square","square","triangle-up","triangle-up","triangle-down","triangle-down"]}, "legend": {"orient": "none", "legendX": 6, "legendY": 1, "labelFontSize": 6.5, "rowPadding": 0.6, "symbolSize": 16, "labelOffset": 8, "symbolStrokeWidth": 1}}
       }},
      {"data": {"name": "ticksC"}, "mark": {"type": "text", "align": "right", "baseline": "middle", "fontSize": 6.5, "dx": -4},
       "encoding": {"x": {"datum": -2}, "y": {"field": "y", "type": "quantitative"}, "text": {"field": "y", "type": "quantitative", "format": "d"}}},
      {"data": {"name": "ticksCx"}, "mark": {"type": "text", "align": "center", "baseline": "top", "fontSize": 7, "dy": 4},
       "encoding": {"x": {"field": "x", "type": "quantitative"}, "y": {"datum": 0}, "text": {"field": "x", "type": "quantitative", "format": "d"}}},
      {"data": {"values": [{}]}, "mark": {"type": "text", "fontSize": 21, "fontWeight": "bold", "align": "center", "baseline": "middle"},
       "encoding": {"x": {"datum": 72}, "y": {"datum": 942}, "text": {"value": "1C"}}},
      {"data": {"values": [{}]}, "mark": {"type": "text", "fontSize": 15, "align": "center", "baseline": "middle"},
       "encoding": {"x": {"datum": 99}, "y": {"datum": 1215}, "text": {"value": "c"}}}
    ]
  },
  {
    "width": 158, "height": 115,
    "layer": [
      {"data": {"name": "dividers"}, "mark": {"type": "rule", "color": "#999", "strokeDash": [3, 3], "strokeWidth": 0.7},
       "encoding": {"x": {"field": "x", "type": "quantitative", "scale": {"domain": [-2.5, 38.5], "nice": false}, "axis": {"values": [0,5,10,15,20,25,30,35], "title": "Cycle number", "titlePadding": 9}}}},
      {"data": {"name": "rate"}, "mark": {"type": "line", "strokeWidth": 0.8, "color": "#333"},
       "encoding": {
         "x": {"field": "x", "type": "quantitative"},
         "y": {"field": "y", "type": "quantitative", "scale": {"domain": [0, 1200], "nice": false}, "axis": {"values": [0,100,200,300,400,500,600,700,800,900,1000,1100,1200], "title": "Capacity (mAh g⁻¹)", "titlePadding": 15}},
         "detail": {"field": "s"}
       }},
      {"data": {"name": "rate"}, "mark": {"type": "point", "filled": false, "stroke": "black", "strokeWidth": 0.8, "size": 14},
       "encoding": {
         "x": {"field": "x", "type": "quantitative"},
         "y": {"field": "y", "type": "quantitative"},
         "fill": {"field": "s", "type": "nominal", "scale": {"domain": ["FC-H4, lithiation","FC-H4, de-lithiation","FC-H7, lithiation","FC-H7, de-lithiation"], "range": ["white","black","white","black"]}, "legend": {"orient": "none", "legendX": 9, "legendY": 1, "labelFontSize": 7, "rowPadding": 2, "symbolSize": 20, "labelOffset": 9, "symbolStrokeColor": "black", "symbolStrokeWidth": 0.8}},
         "shape": {"field": "s", "type": "nominal", "scale": {"domain": ["FC-H4, lithiation","FC-H4, de-lithiation","FC-H7, lithiation","FC-H7, de-lithiation"], "range": ["square","square","circle","circle"]}, "legend": {"orient": "none", "legendX": 9, "legendY": 1, "labelFontSize": 7, "rowPadding": 2, "symbolSize": 20, "labelOffset": 9, "symbolStrokeColor": "black", "symbolStrokeWidth": 0.8}}
       }},
      {"data": {"name": "ticksD"}, "mark": {"type": "text", "align": "right", "baseline": "middle", "fontSize": 6.5, "dx": -4},
       "encoding": {"x": {"datum": -2.5}, "y": {"field": "y", "type": "quantitative"}, "text": {"field": "y", "type": "quantitative", "format": "d"}}},
      {"data": {"name": "ticksDx"}, "mark": {"type": "text", "align": "center", "baseline": "top", "fontSize": 7, "dy": 4},
       "encoding": {"x": {"field": "x", "type": "quantitative"}, "y": {"datum": 0}, "text": {"field": "x", "type": "quantitative", "format": "d"}}},
      {"data": {"name": "rates"}, "mark": {"type": "text", "fontSize": 6.5, "align": "center", "baseline": "middle", "color": "#333"},
       "encoding": {"x": {"field": "x", "type": "quantitative"}, "y": {"datum": 90}, "text": {"field": "t"}}},
      {"data": {"values": [{}]}, "mark": {"type": "text", "fontSize": 17, "align": "center", "baseline": "middle"},
       "encoding": {"x": {"datum": 37.6}, "y": {"datum": 1075}, "text": {"value": "d"}}}
    ]
  }
]
}
